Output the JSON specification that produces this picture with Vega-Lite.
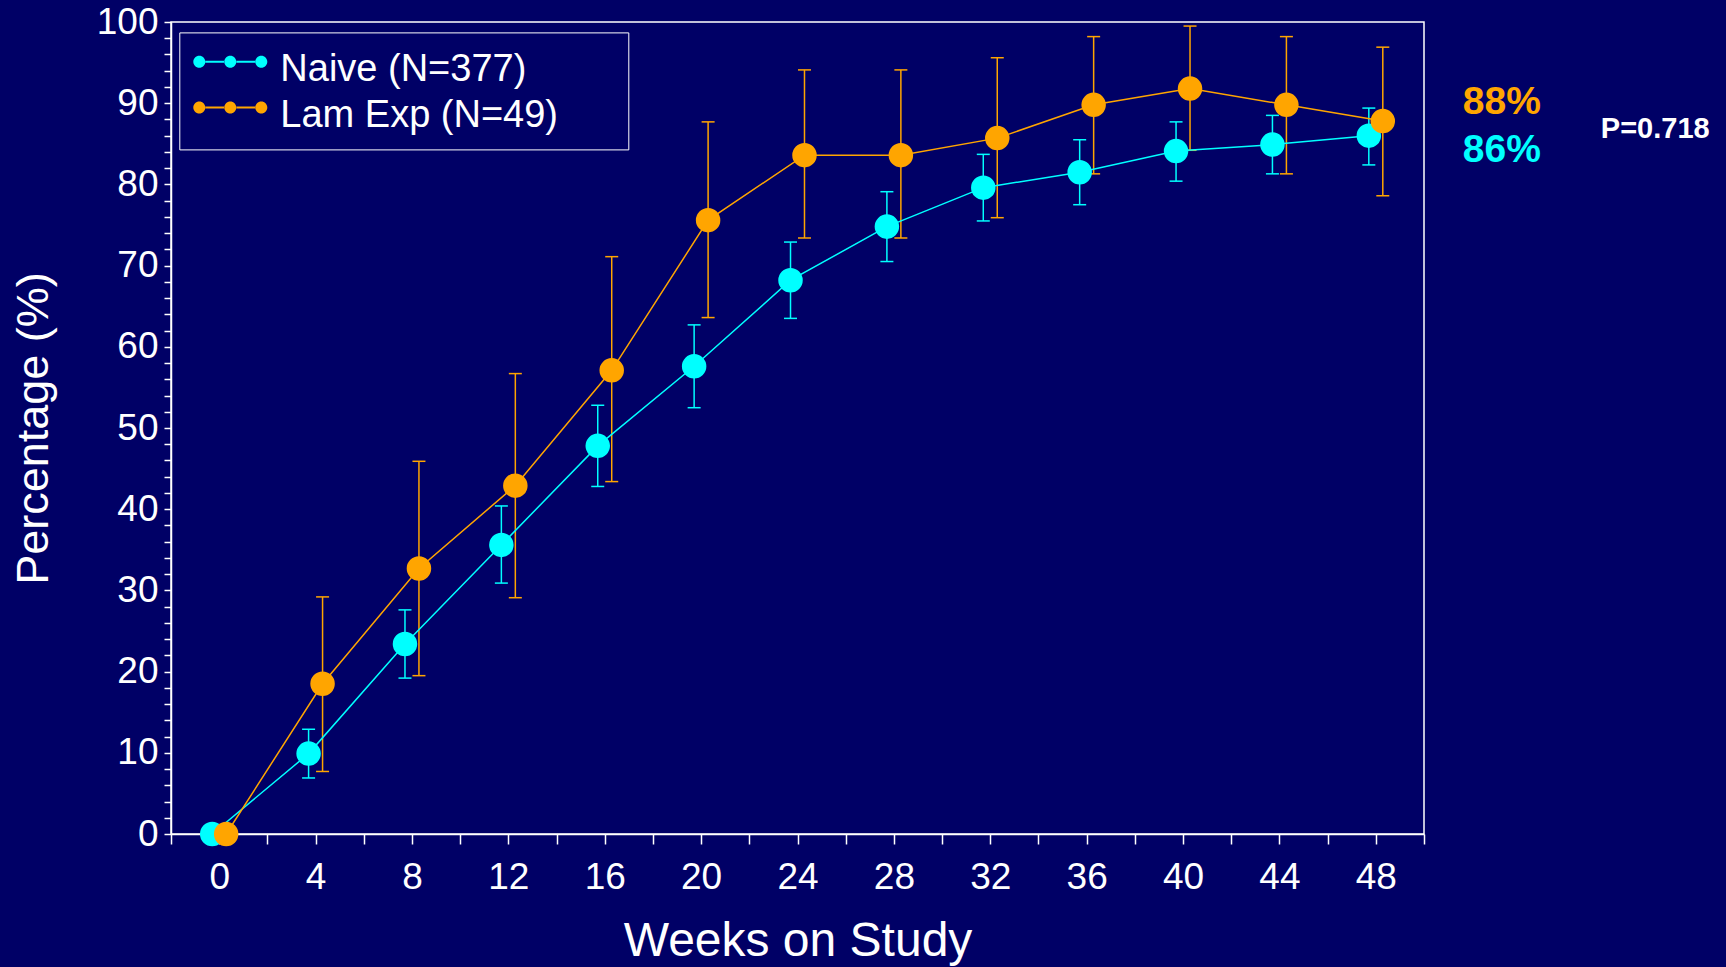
{
  "$schema": "https://vega.github.io/schema/vega-lite/v6.json",
  "width": 1253,
  "height": 812,
  "autosize": {"type": "none"},
  "padding": {"left": 171, "top": 22, "right": 302, "bottom": 133},
  "background": "#000066",
  "config": {
    "font": "Liberation Sans",
    "view": {"stroke": "white", "strokeWidth": 1.5},
    "text": {"font": "Liberation Sans"},
    "axisY": {
      "labelFontSize": 37,
      "labelColor": "white",
      "labelPadding": 6,
      "labelOverlap": false,
      "labelFlush": false,
      "tickSize": 7,
      "tickColor": "white",
      "tickWidth": 1.5,
      "domainColor": "white",
      "domainWidth": 1.5,
      "grid": false,
      "titleFontSize": 45,
      "titleFontWeight": "normal",
      "titleColor": "white",
      "titleAngle": 270,
      "titleBaseline": "alphabetic",
      "titleAlign": "center",
      "titleX": -124,
      "titleY": 406
    }
  },
  "transform": [
    {"calculate": "datum.week + (datum.group === 'Naive (N=377)' ? -0.29 : 0.29)", "as": "wk"}
  ],
  "data": {
    "values": [
      {"group": "Naive (N=377)", "week": 0, "pct": 0, "lo": null, "hi": null},
      {"group": "Naive (N=377)", "week": 4, "pct": 9.9, "lo": 6.9, "hi": 12.9},
      {"group": "Naive (N=377)", "week": 8, "pct": 23.4, "lo": 19.2, "hi": 27.6},
      {"group": "Naive (N=377)", "week": 12, "pct": 35.6, "lo": 30.9, "hi": 40.4},
      {"group": "Naive (N=377)", "week": 16, "pct": 47.8, "lo": 42.8, "hi": 52.8},
      {"group": "Naive (N=377)", "week": 20, "pct": 57.6, "lo": 52.5, "hi": 62.7},
      {"group": "Naive (N=377)", "week": 24, "pct": 68.2, "lo": 63.5, "hi": 72.9},
      {"group": "Naive (N=377)", "week": 28, "pct": 74.8, "lo": 70.5, "hi": 79.1},
      {"group": "Naive (N=377)", "week": 32, "pct": 79.6, "lo": 75.5, "hi": 83.7},
      {"group": "Naive (N=377)", "week": 36, "pct": 81.5, "lo": 77.5, "hi": 85.5},
      {"group": "Naive (N=377)", "week": 40, "pct": 84.1, "lo": 80.4, "hi": 87.7},
      {"group": "Naive (N=377)", "week": 44, "pct": 84.9, "lo": 81.3, "hi": 88.5},
      {"group": "Naive (N=377)", "week": 48, "pct": 86.0, "lo": 82.4, "hi": 89.4},
      {"group": "Lam Exp (N=49)", "week": 0, "pct": 0, "lo": null, "hi": null},
      {"group": "Lam Exp (N=49)", "week": 4, "pct": 18.5, "lo": 7.7, "hi": 29.2},
      {"group": "Lam Exp (N=49)", "week": 8, "pct": 32.7, "lo": 19.5, "hi": 45.9},
      {"group": "Lam Exp (N=49)", "week": 12, "pct": 42.9, "lo": 29.1, "hi": 56.7},
      {"group": "Lam Exp (N=49)", "week": 16, "pct": 57.1, "lo": 43.4, "hi": 71.1},
      {"group": "Lam Exp (N=49)", "week": 20, "pct": 75.6, "lo": 63.6, "hi": 87.7},
      {"group": "Lam Exp (N=49)", "week": 24, "pct": 83.6, "lo": 73.4, "hi": 94.1},
      {"group": "Lam Exp (N=49)", "week": 28, "pct": 83.6, "lo": 73.4, "hi": 94.1},
      {"group": "Lam Exp (N=49)", "week": 32, "pct": 85.7, "lo": 75.9, "hi": 95.6},
      {"group": "Lam Exp (N=49)", "week": 36, "pct": 89.8, "lo": 81.3, "hi": 98.2},
      {"group": "Lam Exp (N=49)", "week": 40, "pct": 91.8, "lo": 84.2, "hi": 99.5},
      {"group": "Lam Exp (N=49)", "week": 44, "pct": 89.8, "lo": 81.3, "hi": 98.2},
      {"group": "Lam Exp (N=49)", "week": 48, "pct": 87.8, "lo": 78.6, "hi": 96.9}
    ]
  },
  "layer": [
    {
      "mark": {"type": "rule", "strokeWidth": 1.5},
      "encoding": {
        "x": {
          "field": "wk", "type": "quantitative",
          "scale": {"domain": [-2, 50], "nice": false, "zero": false},
          "axis": {
            "values": [-2, 0, 2, 4, 6, 8, 10, 12, 14, 16, 18, 20, 22, 24, 26, 28, 30, 32, 34, 36, 38, 40, 42, 44, 46, 48, 50],
            "labelExpr": "datum.value % 4 === 0 ? datum.label : ''",
            "labelOverlap": false,
            "labelFlush": false,
            "labelFontSize": 37,
            "labelColor": "white",
            "labelPadding": 15,
            "tickSize": 10,
            "tickColor": "white",
            "tickWidth": 1.5,
            "domainColor": "white",
            "domainWidth": 1.5,
            "grid": false,
            "title": "Weeks on Study",
            "titleFontSize": 48,
            "titleFontWeight": "normal",
            "titleColor": "white",
            "titleBaseline": "alphabetic",
            "titleAlign": "center",
            "titleX": 626.5,
            "titleY": 121
          }
        },
        "y": {
          "field": "lo", "type": "quantitative",
          "scale": {"domain": [0, 100], "nice": false, "zero": true},
          "axis": {
            "values": [0, 2, 4, 6, 8, 10, 12, 14, 16, 18, 20, 22, 24, 26, 28, 30, 32, 34, 36, 38, 40, 42, 44, 46, 48, 50, 52, 54, 56, 58, 60, 62, 64, 66, 68, 70, 72, 74, 76, 78, 80, 82, 84, 86, 88, 90, 92, 94, 96, 98, 100],
            "labelExpr": "datum.value % 10 === 0 ? datum.label : ''",
            "title": "Percentage (%)",
            "encode": {"ticks": {"update": {"x2": {"signal": "datum.value % 10 === 0 ? -7 : -4"}}}}
          }
        },
        "y2": {"field": "hi"},
        "color": {
          "field": "group", "type": "nominal",
          "scale": {"domain": ["Naive (N=377)", "Lam Exp (N=49)"], "range": ["#00FFFF", "#FFA500"]},
          "legend": {
            "orient": "none",
            "legendX": 8.3,
            "legendY": 10.4,
            "title": null,
            "labelColor": "white",
            "labelFontSize": 38,
            "labelLimit": 1000,
            "labelExpr": "datum.label + '\u2800\u2800'",
            "symbolType": "M-1.762,-0.27a0.286,0.286 0 1,0 0.572,0a0.286,0.286 0 1,0 -0.572,0ZM-0.286,-0.27a0.286,0.286 0 1,0 0.572,0a0.286,0.286 0 1,0 -0.572,0ZM1.19,-0.27a0.286,0.286 0 1,0 0.572,0a0.286,0.286 0 1,0 -0.572,0ZM-1.2,-0.318H-0.27V-0.222H-1.2ZM0.27,-0.318H1.2V-0.222H0.27Z",
            "symbolSize": 1764,
            "symbolStrokeWidth": 0,
            "symbolOpacity": 1,
            "symbolOffset": 16,
            "labelOffset": 29,
            "rowPadding": 2.8,
            "padding": 14,
            "strokeColor": "white",
            "encode": {"labels": {"update": {"dy": {"value": 3}}}}
          }
        }
      }
    },
    {
      "mark": {"type": "tick", "orient": "horizontal", "size": 13, "thickness": 1.5, "opacity": 1},
      "encoding": {
        "x": {"field": "wk", "type": "quantitative"},
        "y": {
          "field": "lo", "type": "quantitative",
          "axis": {
            "values": [0, 2, 4, 6, 8, 10, 12, 14, 16, 18, 20, 22, 24, 26, 28, 30, 32, 34, 36, 38, 40, 42, 44, 46, 48, 50, 52, 54, 56, 58, 60, 62, 64, 66, 68, 70, 72, 74, 76, 78, 80, 82, 84, 86, 88, 90, 92, 94, 96, 98, 100],
            "labelExpr": "datum.value % 10 === 0 ? datum.label : ''",
            "title": "Percentage (%)",
            "encode": {"ticks": {"update": {"x2": {"signal": "datum.value % 10 === 0 ? -7 : -4"}}}}
          }
        },
        "color": {"field": "group", "type": "nominal"}
      }
    },
    {
      "mark": {"type": "tick", "orient": "horizontal", "size": 13, "thickness": 1.5, "opacity": 1},
      "encoding": {
        "x": {"field": "wk", "type": "quantitative"},
        "y": {
          "field": "hi", "type": "quantitative",
          "axis": {
            "values": [0, 2, 4, 6, 8, 10, 12, 14, 16, 18, 20, 22, 24, 26, 28, 30, 32, 34, 36, 38, 40, 42, 44, 46, 48, 50, 52, 54, 56, 58, 60, 62, 64, 66, 68, 70, 72, 74, 76, 78, 80, 82, 84, 86, 88, 90, 92, 94, 96, 98, 100],
            "labelExpr": "datum.value % 10 === 0 ? datum.label : ''",
            "title": "Percentage (%)",
            "encode": {"ticks": {"update": {"x2": {"signal": "datum.value % 10 === 0 ? -7 : -4"}}}}
          }
        },
        "color": {"field": "group", "type": "nominal"}
      }
    },
    {
      "mark": {"type": "line", "strokeWidth": 1.5},
      "encoding": {
        "x": {"field": "wk", "type": "quantitative"},
        "y": {
          "field": "pct", "type": "quantitative",
          "axis": {
            "values": [0, 2, 4, 6, 8, 10, 12, 14, 16, 18, 20, 22, 24, 26, 28, 30, 32, 34, 36, 38, 40, 42, 44, 46, 48, 50, 52, 54, 56, 58, 60, 62, 64, 66, 68, 70, 72, 74, 76, 78, 80, 82, 84, 86, 88, 90, 92, 94, 96, 98, 100],
            "labelExpr": "datum.value % 10 === 0 ? datum.label : ''",
            "title": "Percentage (%)",
            "encode": {"ticks": {"update": {"x2": {"signal": "datum.value % 10 === 0 ? -7 : -4"}}}}
          }
        },
        "color": {"field": "group", "type": "nominal"}
      }
    },
    {
      "mark": {"type": "point", "filled": true, "size": 600, "opacity": 1, "shape": "circle"},
      "encoding": {
        "x": {"field": "wk", "type": "quantitative"},
        "y": {
          "field": "pct", "type": "quantitative",
          "axis": {
            "values": [0, 2, 4, 6, 8, 10, 12, 14, 16, 18, 20, 22, 24, 26, 28, 30, 32, 34, 36, 38, 40, 42, 44, 46, 48, 50, 52, 54, 56, 58, 60, 62, 64, 66, 68, 70, 72, 74, 76, 78, 80, 82, 84, 86, 88, 90, 92, 94, 96, 98, 100],
            "labelExpr": "datum.value % 10 === 0 ? datum.label : ''",
            "title": "Percentage (%)",
            "encode": {"ticks": {"update": {"x2": {"signal": "datum.value % 10 === 0 ? -7 : -4"}}}}
          }
        },
        "color": {"field": "group", "type": "nominal"}
      }
    },
    {
      "transform": [
        {"filter": "datum.week === 48 && datum.group === 'Lam Exp (N=49)'"},
        {"calculate": "format(datum.pct, '.0f') + '%'", "as": "label"}
      ],
      "mark": {"type": "text", "align": "left", "baseline": "alphabetic", "dx": 87, "dy": -7, "fontSize": 39, "fontWeight": "bold", "color": "#FFA500"},
      "encoding": {
        "x": {"field": "week", "type": "quantitative"},
        "y": {
          "field": "pct", "type": "quantitative",
          "axis": {
            "values": [0, 2, 4, 6, 8, 10, 12, 14, 16, 18, 20, 22, 24, 26, 28, 30, 32, 34, 36, 38, 40, 42, 44, 46, 48, 50, 52, 54, 56, 58, 60, 62, 64, 66, 68, 70, 72, 74, 76, 78, 80, 82, 84, 86, 88, 90, 92, 94, 96, 98, 100],
            "labelExpr": "datum.value % 10 === 0 ? datum.label : ''",
            "title": "Percentage (%)",
            "encode": {"ticks": {"update": {"x2": {"signal": "datum.value % 10 === 0 ? -7 : -4"}}}}
          }
        },
        "text": {"field": "label"}
      }
    },
    {
      "transform": [
        {"filter": "datum.week === 48 && datum.group === 'Naive (N=377)'"},
        {"calculate": "format(datum.pct, '.0f') + '%'", "as": "label"}
      ],
      "mark": {"type": "text", "align": "left", "baseline": "alphabetic", "dx": 87, "dy": 26, "fontSize": 39, "fontWeight": "bold", "color": "#00FFFF"},
      "encoding": {
        "x": {"field": "week", "type": "quantitative"},
        "y": {
          "field": "pct", "type": "quantitative",
          "axis": {
            "values": [0, 2, 4, 6, 8, 10, 12, 14, 16, 18, 20, 22, 24, 26, 28, 30, 32, 34, 36, 38, 40, 42, 44, 46, 48, 50, 52, 54, 56, 58, 60, 62, 64, 66, 68, 70, 72, 74, 76, 78, 80, 82, 84, 86, 88, 90, 92, 94, 96, 98, 100],
            "labelExpr": "datum.value % 10 === 0 ? datum.label : ''",
            "title": "Percentage (%)",
            "encode": {"ticks": {"update": {"x2": {"signal": "datum.value % 10 === 0 ? -7 : -4"}}}}
          }
        },
        "text": {"field": "label"}
      }
    },
    {
      "data": {"values": [{"label": "P=0.718"}]},
      "mark": {"type": "text", "align": "left", "baseline": "alphabetic", "dx": 225, "fontSize": 29, "fontWeight": "bold", "color": "white"},
      "encoding": {
        "x": {"datum": 48, "type": "quantitative"},
        "y": {
          "datum": 85.7, "type": "quantitative",
          "axis": {
            "values": [0, 2, 4, 6, 8, 10, 12, 14, 16, 18, 20, 22, 24, 26, 28, 30, 32, 34, 36, 38, 40, 42, 44, 46, 48, 50, 52, 54, 56, 58, 60, 62, 64, 66, 68, 70, 72, 74, 76, 78, 80, 82, 84, 86, 88, 90, 92, 94, 96, 98, 100],
            "labelExpr": "datum.value % 10 === 0 ? datum.label : ''",
            "title": "Percentage (%)",
            "encode": {"ticks": {"update": {"x2": {"signal": "datum.value % 10 === 0 ? -7 : -4"}}}}
          }
        },
        "text": {"field": "label"}
      }
    }
  ]
}
